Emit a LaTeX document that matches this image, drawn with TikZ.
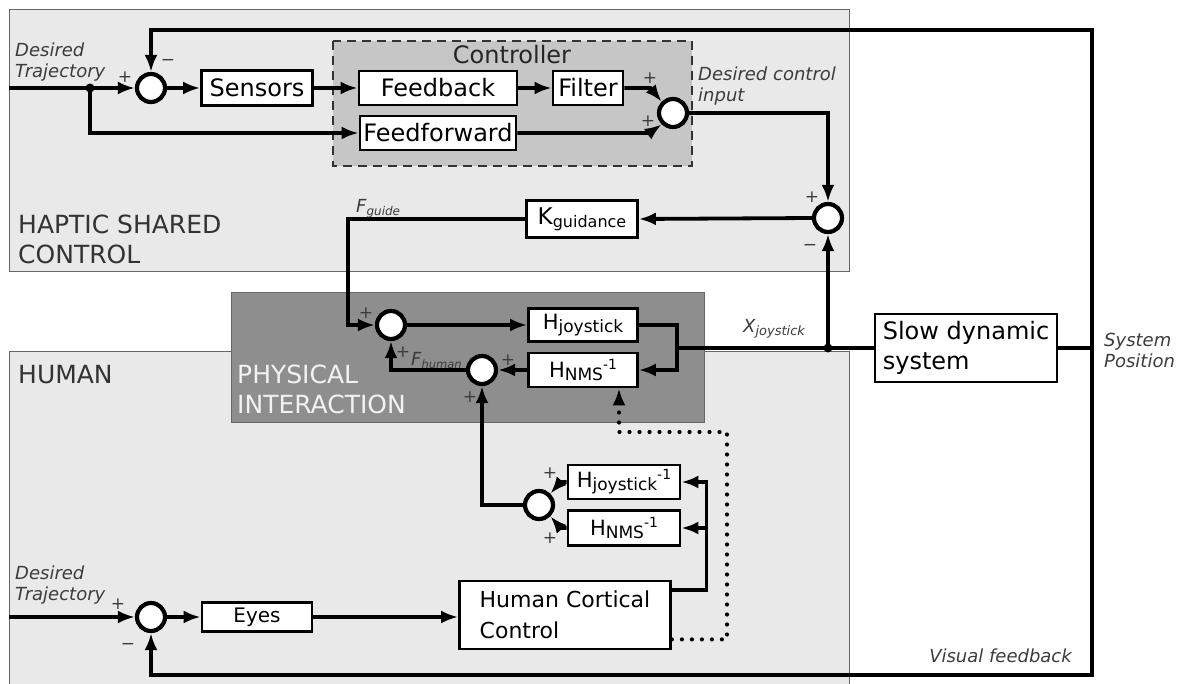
\documentclass[tikz,border=0pt]{standalone}
\usepackage{fontspec}
\setmainfont{DejaVu Sans}
\usepackage{tikz}
\usetikzlibrary{calc}
\usetikzlibrary{arrows.meta}
\usetikzlibrary{positioning}
\definecolor{paleback}{RGB}{233, 233, 233}
\definecolor{ctrlgray}{RGB}{198, 198, 198}
\definecolor{physgray}{RGB}{142, 142, 142}
\definecolor{labelgray}{RGB}{60, 60, 60}
\newcommand{\fsz}[2]{\fontsize{#1}{#2}\selectfont}
\newcommand{\lowtxt}[2]{\raisebox{-3pt}{\fontsize{#1}{#1}\selectfont #2}}
\newcommand{\hightxt}[1]{\raisebox{8pt}{\fontsize{14}{14}\selectfont #1}}

\begin{document}
\begin{tikzpicture}[x=1pt, y=-1pt,
    blk/.style={draw, fill=white, line width=2.8pt, inner sep=1pt, font=\fsz{24}{28}},
    sumnode/.style={circle, draw, fill=white, line width=4.2pt, minimum size=28pt, inner sep=0pt},
    wire/.style={line width=3.8pt},
    arr/.style={wire, -{Latex[length=17pt,width=13pt]}},
    dotarr/.style={line width=4.2pt, line cap=round, dash pattern=on 0pt off 10pt, -{Latex[length=17pt,width=13pt]}},
    sign/.style={font=\fsz{17}{17}, text=labelgray, inner sep=0pt},
    tag/.style={font=\fsz{18}{21}\itshape, text=labelgray, inner sep=0pt, align=left, anchor=base west},
    title/.style={font=\fsz{25}{30}, text=black!80, inner sep=0pt, align=left, anchor=base west},
    region/.style={draw=black!60, line width=0.8pt}]
    \useasboundingbox (0,0) rectangle (1185,684);
    \filldraw[region, fill=paleback] (9,9) rectangle (849,271);
    \filldraw[region, fill=paleback] (9,351) rectangle (849,700);
    \filldraw[region, fill=physgray] (231,292) rectangle (704,422);
    \filldraw[fill=ctrlgray, draw=black!80, line width=1.6pt, dash pattern=on 9pt off 6pt] (333,41) rectangle (692,166);

    \node[title] (hsclabel) at (18,264) {HAPTIC SHARED\\CONTROL};
    \node[title] (humanlabel) at (18,383) {HUMAN};
    \node[title, text=black!5] (physlabel) at (237,413) {PHYSICAL\\INTERACTION};
    \node[font=\fsz{24}{24}, text=black!85, inner sep=0pt] (ctrllabel) at (512,55) {Controller};

    \node[sumnode] (s1) at (151,88) {};
    \node[blk, minimum width=111pt, minimum height=35pt] (sens) at (257,88) {Sensors};
    \node[blk, minimum width=158pt, minimum height=34pt] (fb) at (438,88) {Feedback};
    \node[blk, minimum width=70pt, minimum height=34pt] (filt) at (588,88) {Filter};
    \node[blk, minimum width=156pt, minimum height=34pt] (ff) at (438,133) {Feedforward};
    \node[sumnode] (s2) at (673,113) {};
    \node[sumnode] (s3) at (828,218) {};
    \node[blk, minimum width=111pt, minimum height=37pt, font=\fsz{23}{23}] (kg) at (582,219) {K\lowtxt{16}{guidance}};
    \node[sumnode] (s4) at (391,325) {};
    \node[blk, minimum width=109pt, minimum height=33pt, font=\fsz{21}{21}] (hj) at (583,325) {H\lowtxt{17}{joystick}};
    \node[blk, minimum width=109pt, minimum height=34pt, font=\fsz{21}{21}] (hn) at (583,370) {H\lowtxt{17}{NMS}\hightxt{-1}};
    \node[sumnode] (s5) at (482,370) {};
    \node[blk, minimum width=182pt, minimum height=68pt, align=left, font=\fsz{24}{30}] (slow) at (966,348) {Slow dynamic\\system};
    \node[blk, minimum width=112pt, minimum height=34pt, font=\fsz{21}{21}] (hji) at (624,482) {H\lowtxt{17}{joystick}\hightxt{-1}};
    \node[blk, minimum width=112pt, minimum height=35pt, font=\fsz{21}{21}] (hni) at (624,528) {H\lowtxt{17}{NMS}\hightxt{-1}};
    \node[sumnode] (s7) at (539,505) {};
    \node[sumnode] (s6) at (151,617) {};
    \node[blk, minimum width=110pt, minimum height=29pt, font=\fsz{20}{20}] (eyes) at (257,617) {Eyes};
    \node[blk, minimum width=211pt, minimum height=68pt, align=left, font=\fsz{22}{31}] (hcc) at (565,615) {Human Cortical\\Control};

    \coordinate (in1) at (9,88);
    \coordinate (j1) at (90,88);
    \coordinate (in2) at (9,617);
    \coordinate (jx) at (677,348);
    \coordinate (j2) at (828,348);
    \coordinate (tr) at (1092,30);
    \coordinate (br) at (1092,675);
    \coordinate (d1) at (727,432);

    \draw[arr] (in1) -- (s1.west);
    \draw[arr] (j1) |- (ff.west);
    \fill (j1) circle (4.5pt);
    \draw[arr] (s1.east) -- (sens.west);
    \draw[arr] (sens.east) -- (fb.west);
    \draw[arr] (fb.east) -- (filt.west);
    \draw[arr] (filt.east) -- ++(26,0) -- (s2.135);
    \draw[arr] (ff.east) -- ++(132,0) -- (s2.225);
    \draw[arr] (s2.east) -| (s3.north);
    \draw[arr] (s3.west) -- (kg.east);
    \draw[arr] (kg.west) -| ($(s4.west)+(-27,0)$) -- (s4.west);
    \draw[arr] (s4.east) -- (hj.west);
    \draw[arr] (hj.east) -| (jx) |- (hn.east);
    \draw[wire] (jx) -- (slow.west);
    \draw[arr] (j2) -- (s3.south);
    \fill (j2) circle (4.5pt);
    \draw[arr] (slow.east) -| (tr) -| (s1.north);
    \draw[arr] (slow.east) -| (br) -| (s6.south);
    \draw[arr] (hn.west) -- (s5.east);
    \draw[arr] (s5.west) -| (s4.south);
    \draw[arr] (s7.west) -| (s5.south);
    \draw[arr] (hji.west) -- ++(-6,0) -- (s7.45);
    \draw[arr] (hni.west) -- ++(-6,0) -- (s7.-45);
    \draw[arr] ([yshift=-10pt]hcc.north east) -| ($(hji.east)+(25,0)$) -- (hji.east);
    \draw[arr] ($(hni.east)+(25,0)$) -- (hni.east);
    \draw[arr] (in2) -- (s6.west);
    \draw[arr] (s6.east) -- (eyes.west);
    \draw[arr] (eyes.east) -- (hcc.west |- eyes.east);
    \draw[dotarr] ([yshift=11pt]hcc.south east) -| (d1) -| ([xshift=36pt]hn.south);

    \node[tag] (dt1) at (15,78) {Desired\\Trajectory};
    \node[tag] (dci) at (698,102) {Desired control\\input};
    \node[tag] (dt2) at (15,600) {Desired\\Trajectory};
    \node[tag] (spos) at (1104,367) {System\\Position};
    \node[tag, anchor=base east] (vfb) at (1072,662) {Visual feedback};
    \node[tag] (xj) at (743,332) {X\lowtxt{13}{joystick}};
    \node[tag] (fg) at (356,213) {F\lowtxt{12}{guide}};
    \node[tag] (fh) at (411,365) {F\lowtxt{11.5}{human}};

    \node[sign] (s1p) at (125,77) {+};
    \node[sign] (s1m) at (168,62) {−};
    \node[sign] (s2pa) at (650,78) {+};
    \node[sign] (s2pb) at (648,121) {+};
    \node[sign] (s3p) at (812,197) {+};
    \node[sign] (s3m) at (810,247) {−};
    \node[sign] (s4pa) at (366,313) {+};
    \node[sign] (s4pb) at (403,352) {+};
    \node[sign] (s5pa) at (508,360) {+};
    \node[sign] (s5pb) at (470,397) {+};
    \node[sign] (s6p) at (118,604) {+};
    \node[sign] (s6m) at (128,646) {−};
    \node[sign] (s7pa) at (550,473) {+};
    \node[sign] (s7pb) at (550,538) {+};
\end{tikzpicture}
\end{document}
